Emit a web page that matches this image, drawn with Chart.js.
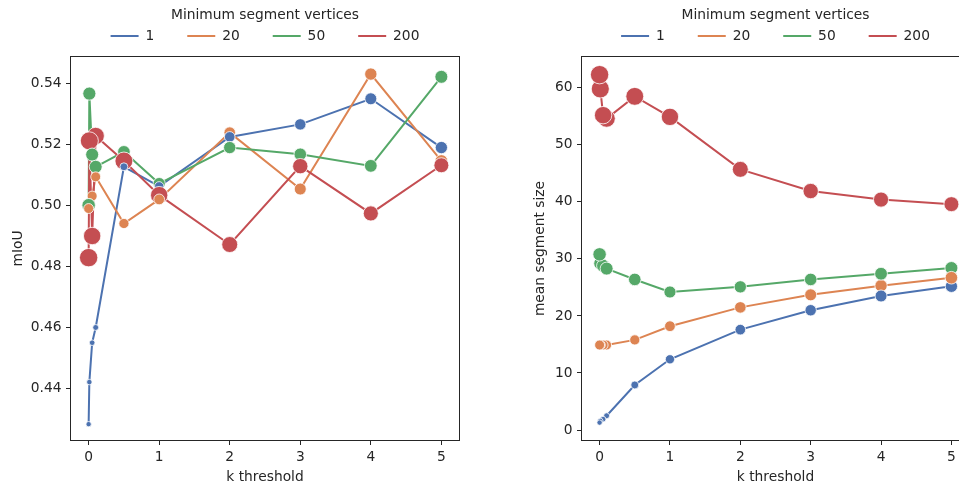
<!DOCTYPE html>
<html>
<head>
<meta charset="utf-8">
<script src="https://cdn.jsdelivr.net/npm/chart.js@4.4.1/dist/chart.umd.min.js"></script>
<style>
  html, body { margin: 0; padding: 0; background: #fff; overflow: hidden; }
  #wrap { position: relative; width: 959px; height: 484px; overflow: hidden; }
  .panel { position: absolute; top: 0; height: 484px; }
  #left { left: 0; width: 480px; }
  #right { left: 480px; width: 500px; }
</style>
</head>
<body>
<div id="wrap">
  <div class="panel" id="left"><canvas id="miouChart"></canvas></div>
  <div class="panel" id="right"><canvas id="sizeChart"></canvas></div>
</div>
<script>
// x: k threshold, hue: minimum segment vertices
const kThreshold = [0, 0.01, 0.05, 0.1, 0.5, 1, 2, 3, 4, 5];
const vertexLabels = ['1', '20', '50', '200'];

// mIoU per series
const miou1   = [0.4282, 0.4420, 0.4549, 0.4599, 0.5126, 0.5062, 0.5224, 0.5265, 0.5349, 0.5189];
const miou20  = [0.4989, 0.5005, 0.5030, 0.5093, 0.4940, 0.5019, 0.5238, 0.5053, 0.5430, 0.5145];
const miou50  = [0.5000, 0.5366, 0.5166, 0.5126, 0.5175, 0.5071, 0.5189, 0.5167, 0.5129, 0.5421];
const miou200 = [0.4828, 0.5211, 0.4899, 0.5227, 0.5145, 0.5033, 0.4871, 0.5128, 0.4973, 0.5131];

// mean segment size per series (also drives marker size)
const size1   = [1.3, 1.6, 1.9, 2.5, 7.9, 12.4, 17.6, 21.0, 23.5, 25.2];
const size20  = [14.9, 14.9, 14.9, 14.9, 15.8, 18.2, 21.5, 23.7, 25.3, 26.7];
const size50  = [30.8, 29.2, 28.8, 28.3, 26.4, 24.2, 25.1, 26.4, 27.4, 28.4];
const size200 = [62.3, 59.8, 55.2, 54.6, 58.5, 54.9, 45.7, 41.9, 40.4, 39.6];

// tick labels
const kTicks = [0, 1, 2, 3, 4, 5];
const miouTicks = [0.44, 0.46, 0.48, 0.50, 0.52, 0.54];
const sizeTicks = [0, 10, 20, 30, 40, 50, 60];

const palette = ['#4c72b0', '#dd8452', '#55a868', '#c44e52'];
const ink = '#262626';
const font = { family: 'DejaVu Sans', size: 13.8 };
const miouSeries = [miou1, miou20, miou50, miou200];
const sizeSeries = [size1, size20, size50, size200];

// marker radius grows with mean segment size (area ~ size)
const markerRadius = s => Math.sqrt(4.5 + 1.23 * s) + 0.2;

// full box around the plot area (matplotlib spines)
const framePlugin = {
    id: 'frame',
    afterDraw(chart) {
        const { ctx, chartArea: a } = chart;
        ctx.save();
        ctx.strokeStyle = ink;
        ctx.lineWidth = 1;
        const l = Math.round(a.left) - 0.5, t = Math.round(a.top) - 0.5;
        const r = Math.round(a.right) + 0.5, b = Math.round(a.bottom) + 0.5;
        ctx.strokeRect(l, t, r - l, b - t);
        ctx.restore();
    }
};

// some extra room between legend and plot area
const legendGapPlugin = {
    id: 'legendGap',
    afterInit(chart, args, opts) {
        const legend = chart.legend;
        const fit = legend.fit;
        legend.fit = function () {
            fit.call(this);
            this.height += opts.extra || 0;
        };
    }
};

// all markers in one layer, rows ordered by mIoU (highest first, lowest ends on top)
function markerRows(useSize) {
    const rows = [];
    miouSeries.forEach((m, h) => {
        m.forEach((v, j) => {
            rows.push({ x: kThreshold[j], miou: v, size: sizeSeries[h][j], h: h });
        });
    });
    rows.sort((a, b) => b.miou - a.miou);
    return rows.map(r => ({ x: r.x, y: useSize ? r.size : r.miou, s: r.size, h: r.h }));
}

function buildDatasets(ySeries, useSize) {
    const lines = ySeries.map((ys, i) => ({
        label: vertexLabels[i],
        data: kThreshold.map((k, j) => ({ x: k, y: ys[j] })),
        borderColor: palette[i],
        backgroundColor: palette[i],
        borderWidth: 2,
        pointRadius: 0,
        pointHoverRadius: 0,
        pointBorderColor: palette[i],
        pointBorderWidth: 2,
        tension: 0,
        fill: false,
        order: 100 - i
    }));
    const dots = {
        label: '_markers',
        data: markerRows(useSize),
        showLine: false,
        pointRadius: ctx => markerRadius(ctx.raw.s),
        pointHoverRadius: ctx => markerRadius(ctx.raw.s),
        pointBackgroundColor: ctx => palette[ctx.raw.h],
        pointBorderColor: '#ffffff',
        pointBorderWidth: 0.8,
        order: 0
    };
    return lines.concat([dots]);
}

function createPanel(canvasId, ySeries, cfg) {
    const canvas = document.getElementById(canvasId);
    return new Chart(canvas.getContext('2d'), {
        type: 'line',
        data: { datasets: buildDatasets(ySeries, cfg.useSize) },
        options: {
            responsive: true,
            maintainAspectRatio: false,
            animation: false,
            events: [],
            layout: { padding: { top: 0, left: 0, bottom: 0, right: cfg.padRight } },
            plugins: {
                tooltip: { enabled: false },
                legendGap: { extra: 4.1 },
                legend: {
                    display: true,
                    position: 'top',
                    fullSize: false,
                    align: 'center',
                    title: {
                        display: true,
                        text: 'Minimum segment vertices',
                        color: ink,
                        font: font,
                        padding: { top: 8.1, bottom: -28.56 }
                    },
                    labels: {
                        color: ink,
                        font: font,
                        usePointStyle: true,
                        pointStyle: 'line',
                        pointStyleWidth: 28,
                        padding: 33,
                        filter: item => item.datasetIndex < vertexLabels.length,
                        sort: (a, b) => a.datasetIndex - b.datasetIndex
                    }
                }
            },
            scales: {
                x: {
                    type: 'linear',
                    min: -0.25,
                    max: 5.25,
                    afterBuildTicks: s => { s.ticks = kTicks.map(v => ({ value: v })); },
                    afterFit: s => { s.height = 44; },
                    border: { display: false },
                    grid: { drawOnChartArea: false, drawTicks: true, tickLength: 5, tickColor: ink, tickWidth: 1 },
                    ticks: { color: ink, font: font, padding: 4, maxRotation: 0, autoSkip: false, callback: v => String(v) },
                    title: { display: true, text: 'k threshold', color: ink, font: font, padding: { top: 0, bottom: -1.5 } }
                },
                y: {
                    type: 'linear',
                    min: cfg.yMin,
                    max: cfg.yMax,
                    afterBuildTicks: s => { s.ticks = cfg.yTicks.map(v => ({ value: v })); },
                    afterFit: s => { s.width = cfg.yWidth; },
                    border: { display: false },
                    grid: { drawOnChartArea: false, drawTicks: true, tickLength: 5, tickColor: ink, tickWidth: 1 },
                    ticks: { color: ink, font: font, padding: 4.5, autoSkip: false, callback: cfg.yFormat },
                    title: { display: true, text: cfg.yTitle, color: ink, font: font, padding: { top: cfg.yTitlePad, bottom: 0 } }
                }
            }
        },
        plugins: [framePlugin, legendGapPlugin]
    });
}

createPanel('miouChart', miouSeries, {
    useSize: false,
    padRight: 21,
    yMin: 0.423,
    yMax: 0.5486,
    yTicks: miouTicks,
    yWidth: 71,
    yFormat: v => v.toFixed(2),
    yTitle: 'mIoU',
    yTitlePad: 9.7
});

createPanel('sizeChart', sizeSeries, {
    useSize: true,
    padRight: 11,
    yMin: -1.75,
    yMax: 65.4,
    yTicks: sizeTicks,
    yWidth: 102,
    yFormat: v => String(v),
    yTitle: 'mean segment size',
    yTitlePad: 51.7
});
</script>
</body>
</html>
